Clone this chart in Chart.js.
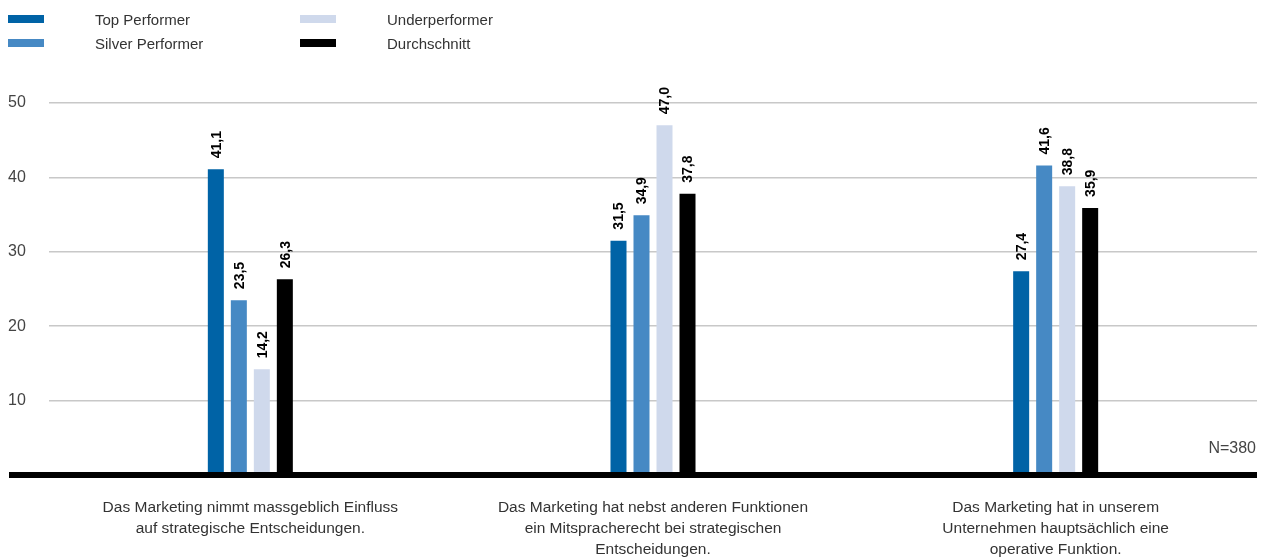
<!DOCTYPE html>
<html lang="de">
<head>
<meta charset="utf-8">
<title>Rolle des Marketings</title>
<script src="https://cdn.jsdelivr.net/npm/chart.js@4.4.1/dist/chart.umd.min.js"></script>
<style>
    html, body { margin: 0; padding: 0; background: #fff; }
    #wrap { position: relative; width: 1265px; height: 558px; }
    #chart { position: absolute; left: 0; top: 0; }
    #legend {
        position: absolute; left: 8px; top: 7px;
        display: grid;
        grid-template-rows: 24px 24px;
        grid-template-columns: 292px 300px;
        grid-auto-flow: column;
        font: 15px "Liberation Sans", Arial, sans-serif;
        color: #333;
    }
    .legend-item { display: flex; align-items: center; }
    .legend-swatch { width: 36px; height: 8px; margin-right: 51px; }
</style>
</head>
<body>
<div id="wrap">
    <canvas id="chart" width="1265" height="558"></canvas>
    <div id="legend"></div>
</div>
<script>
const categories = [
    ['Das Marketing nimmt massgeblich Einfluss', 'auf strategische Entscheidungen.'],
    ['Das Marketing hat nebst anderen Funktionen', 'ein Mitspracherecht bei strategischen', 'Entscheidungen.'],
    ['Das Marketing hat in unserem', 'Unternehmen hauptsächlich eine', 'operative Funktion.']
];
const seriesNames = ['Top Performer', 'Silver Performer', 'Underperformer', 'Durchschnitt'];
const seriesColors = ['#0063a6', '#4689c4', '#cfd9ec', '#000000'];
const topPerformer = [41.1, 31.5, 27.4];
const silverPerformer = [23.5, 34.9, 41.6];
const underperformer = [14.2, 47.0, 38.8];
const durchschnitt = [26.3, 37.8, 35.9];
const yTicks = [0, 10, 20, 30, 40, 50];
const sampleNote = 'N=380';

const FONT = '"Liberation Sans", Arial, sans-serif';

const seriesValues = [topPerformer, silverPerformer, underperformer, durchschnitt];

// rotated value labels, thick zero line and the sample size note
const barExtras = {
    id: 'barExtras',
    afterDatasetsDraw(chart) {
        const ctx = chart.ctx;
        const area = chart.chartArea;
        const y = chart.scales.y;

        ctx.save();
        ctx.font = 'bold 14px ' + FONT;
        ctx.fillStyle = '#000';
        ctx.textAlign = 'left';
        ctx.textBaseline = 'middle';
        chart.data.datasets.forEach((ds, i) => {
            chart.getDatasetMeta(i).data.forEach((bar, j) => {
                ctx.save();
                ctx.translate(bar.x + 1, bar.y - 11);
                ctx.rotate(-Math.PI / 2);
                ctx.fillText(ds.data[j].toFixed(1).replace('.', ','), 0, 0);
                ctx.restore();
            });
        });

        const zero = y.getPixelForValue(0);
        ctx.strokeStyle = '#000';
        ctx.lineWidth = 6;
        ctx.beginPath();
        ctx.moveTo(9, zero);
        ctx.lineTo(area.right, zero);
        ctx.stroke();

        ctx.font = '16px ' + FONT;
        ctx.fillStyle = '#444';
        ctx.textAlign = 'right';
        ctx.fillText(sampleNote, area.right - 1, zero - 26);
        ctx.restore();
    }
};

// legend in two columns, built from the datasets
const htmlLegend = {
    id: 'htmlLegend',
    afterUpdate(chart) {
        const box = document.getElementById('legend');
        box.innerHTML = '';
        chart.data.datasets.forEach(ds => {
            const item = document.createElement('div');
            item.className = 'legend-item';
            item.innerHTML = `<span class="legend-swatch" style="background:${ds.backgroundColor}"></span><span>${ds.label}</span>`;
            box.appendChild(item);
        });
    }
};

new Chart(document.getElementById('chart'), {
    type: 'bar',
    data: {
        labels: categories,
        datasets: seriesNames.map((name, i) => ({
            label: name,
            data: seriesValues[i],
            backgroundColor: seriesColors[i],
            borderWidth: 0,
            categoryPercentage: 0.2285,
            barPercentage: 0.696
        }))
    },
    options: {
        responsive: false,
        animation: false,
        layout: { padding: { top: 103, left: 8, right: 8, bottom: 0 } },
        plugins: {
            legend: { display: false },
            tooltip: { enabled: false }
        },
        scales: {
            x: {
                grid: { display: false },
                border: { display: false },
                ticks: {
                    maxRotation: 0,
                    autoSkip: false,
                    padding: 14,
                    color: '#333',
                    font: { family: FONT, size: 15.5, lineHeight: 1.355 }
                },
                afterFit(scale) { scale.height = 83; }
            },
            y: {
                min: 0,
                max: 50,
                afterBuildTicks(scale) { scale.ticks = yTicks.map(v => ({ value: v })); },
                grid: { color: '#c8c8c8', lineWidth: 1.5, drawTicks: false },
                border: { display: false },
                ticks: {
                    crossAlign: 'far',
                    color: '#444',
                    font: { family: FONT, size: 16 },
                    callback: v => v === 0 ? '' : v
                },
                afterFit(scale) { scale.width = 41; }
            }
        }
    },
    plugins: [barExtras, htmlLegend]
});
</script>
</body>
</html>
